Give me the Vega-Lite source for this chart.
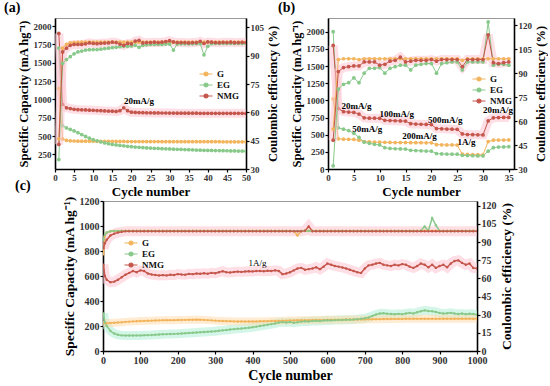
{
"$schema": "https://vega.github.io/schema/vega-lite/v6.json",
"padding": {"left": 3, "top": 0, "right": 0, "bottom": 0},
"config": {
  "font": "Liberation Serif",
  "view": {"stroke": "#999", "strokeWidth": 1},
  "axis": {"domainColor": "#000", "domainWidth": 1.6, "tickColor": "#000", "tickSize": 3, "tickWidth": 1.2, "labelFont": "Liberation Serif", "labelFontWeight": "bold", "labelFontSize": 9, "labelColor": "#333", "titleFont": "Liberation Serif", "titleFontWeight": "bold", "titleFontSize": 12.5, "titleColor": "#000", "grid": false, "labelPadding": 1, "titlePadding": 3, "labelFlush": false, "labelOverlap": false, "format": "d"},
  "legend": {"labelFont": "Liberation Serif", "labelFontWeight": "bold", "labelFontSize": 9, "labelColor": "#111", "padding": 0, "rowPadding": 0, "labelOffset": 5, "symbolSize": 100, "symbolStrokeWidth": 1.2, "symbolType": "M-1.3,0H1.3M-0.4,0A0.4,0.4,0,1,1,0.4,0A0.4,0.4,0,1,1,-0.4,0"},
  "title": {"font": "Liberation Serif", "fontWeight": "bold", "fontSize": 14, "color": "#000"}
},
"datasets": {
"a": [
{"s":"G","x":1,"cap":1150,"ce":46},{"s":"G","x":2,"cap":460,"ce":94},{"s":"G","x":3,"cap":440,"ce":96},{"s":"G","x":4,"cap":435,"ce":96.8},{"s":"G","x":5,"cap":432,"ce":97},{"s":"G","x":6,"cap":430,"ce":97.1},{"s":"G","x":7,"cap":430,"ce":97.2},{"s":"G","x":8,"cap":430,"ce":97.2},{"s":"G","x":9,"cap":429,"ce":97.2},{"s":"G","x":10,"cap":429,"ce":97.2},
{"s":"G","x":11,"cap":428,"ce":97.2},{"s":"G","x":12,"cap":428,"ce":97.2},{"s":"G","x":13,"cap":427,"ce":97.2},{"s":"G","x":14,"cap":427,"ce":97.2},{"s":"G","x":15,"cap":427,"ce":97.2},{"s":"G","x":16,"cap":426,"ce":97.2},{"s":"G","x":17,"cap":426,"ce":97.2},{"s":"G","x":18,"cap":426,"ce":97.2},{"s":"G","x":19,"cap":425,"ce":97.2},{"s":"G","x":20,"cap":425,"ce":97.2},
{"s":"G","x":21,"cap":425,"ce":97.2},{"s":"G","x":22,"cap":425,"ce":97.2},{"s":"G","x":23,"cap":424,"ce":97.2},{"s":"G","x":24,"cap":424,"ce":97.2},{"s":"G","x":25,"cap":424,"ce":97.2},{"s":"G","x":26,"cap":424,"ce":97.2},{"s":"G","x":27,"cap":424,"ce":97.2},{"s":"G","x":28,"cap":423,"ce":97.2},{"s":"G","x":29,"cap":423,"ce":97.2},{"s":"G","x":30,"cap":423,"ce":97.2},
{"s":"G","x":31,"cap":423,"ce":97.2},{"s":"G","x":32,"cap":423,"ce":97.2},{"s":"G","x":33,"cap":423,"ce":97.2},{"s":"G","x":34,"cap":423,"ce":97.2},{"s":"G","x":35,"cap":423,"ce":97.2},{"s":"G","x":36,"cap":422,"ce":97.2},{"s":"G","x":37,"cap":422,"ce":97.2},{"s":"G","x":38,"cap":422,"ce":97.2},{"s":"G","x":39,"cap":422,"ce":97.2},{"s":"G","x":40,"cap":422,"ce":97.2},
{"s":"G","x":41,"cap":422,"ce":97.2},{"s":"G","x":42,"cap":422,"ce":97.2},{"s":"G","x":43,"cap":422,"ce":97.2},{"s":"G","x":44,"cap":421,"ce":97.2},{"s":"G","x":45,"cap":421,"ce":97.2},{"s":"G","x":46,"cap":421,"ce":97.2},{"s":"G","x":47,"cap":421,"ce":97.2},{"s":"G","x":48,"cap":421,"ce":97.2},{"s":"G","x":49,"cap":421,"ce":97.2},{"s":"G","x":50,"cap":421,"ce":97.2},
{"s":"EG","x":1,"cap":1700,"ce":35},{"s":"EG","x":2,"cap":640,"ce":86},{"s":"EG","x":3,"cap":610,"ce":88},{"s":"EG","x":4,"cap":590,"ce":89.5},{"s":"EG","x":5,"cap":570,"ce":91},{"s":"EG","x":6,"cap":545,"ce":92},{"s":"EG","x":7,"cap":520,"ce":92.5},{"s":"EG","x":8,"cap":495,"ce":93},{"s":"EG","x":9,"cap":470,"ce":93.2},{"s":"EG","x":10,"cap":450,"ce":93.3},
{"s":"EG","x":11,"cap":435,"ce":93.3},{"s":"EG","x":12,"cap":420,"ce":93.5},{"s":"EG","x":13,"cap":405,"ce":93.8},{"s":"EG","x":14,"cap":395,"ce":94},{"s":"EG","x":15,"cap":385,"ce":94.3},{"s":"EG","x":16,"cap":378,"ce":94.5},{"s":"EG","x":17,"cap":372,"ce":94.8},{"s":"EG","x":18,"cap":366,"ce":95},{"s":"EG","x":19,"cap":360,"ce":95},{"s":"EG","x":20,"cap":355,"ce":95.2},
{"s":"EG","x":21,"cap":350,"ce":95.5},{"s":"EG","x":22,"cap":346,"ce":94.5},{"s":"EG","x":23,"cap":342,"ce":95.5},{"s":"EG","x":24,"cap":338,"ce":95.8},{"s":"EG","x":25,"cap":335,"ce":96},{"s":"EG","x":26,"cap":332,"ce":96},{"s":"EG","x":27,"cap":330,"ce":96},{"s":"EG","x":28,"cap":327,"ce":96},{"s":"EG","x":29,"cap":325,"ce":96.2},{"s":"EG","x":30,"cap":323,"ce":96.2},
{"s":"EG","x":31,"cap":321,"ce":93},{"s":"EG","x":32,"cap":319,"ce":96.2},{"s":"EG","x":33,"cap":317,"ce":96.3},{"s":"EG","x":34,"cap":315,"ce":96.3},{"s":"EG","x":35,"cap":313,"ce":96.3},{"s":"EG","x":36,"cap":311,"ce":96.3},{"s":"EG","x":37,"cap":309,"ce":96.4},{"s":"EG","x":38,"cap":307,"ce":96.4},{"s":"EG","x":39,"cap":305,"ce":90.5},{"s":"EG","x":40,"cap":304,"ce":95},
{"s":"EG","x":41,"cap":303,"ce":96.4},{"s":"EG","x":42,"cap":302,"ce":96.5},{"s":"EG","x":43,"cap":301,"ce":96.5},{"s":"EG","x":44,"cap":300,"ce":96.5},{"s":"EG","x":45,"cap":299,"ce":96.5},{"s":"EG","x":46,"cap":297,"ce":96.5},{"s":"EG","x":47,"cap":296,"ce":96.5},{"s":"EG","x":48,"cap":295,"ce":96.5},{"s":"EG","x":49,"cap":294,"ce":96.5},{"s":"EG","x":50,"cap":293,"ce":96.5},
{"s":"NMG","x":1,"cap":1900,"ce":43},{"s":"NMG","x":2,"cap":930,"ce":92},{"s":"NMG","x":3,"cap":885,"ce":94},{"s":"NMG","x":4,"cap":875,"ce":95.5},{"s":"NMG","x":5,"cap":865,"ce":96},{"s":"NMG","x":6,"cap":860,"ce":96},{"s":"NMG","x":7,"cap":858,"ce":96},{"s":"NMG","x":8,"cap":855,"ce":96.3},{"s":"NMG","x":9,"cap":852,"ce":96.8},{"s":"NMG","x":10,"cap":850,"ce":96.5},
{"s":"NMG","x":11,"cap":848,"ce":96.4},{"s":"NMG","x":12,"cap":845,"ce":96.6},{"s":"NMG","x":13,"cap":842,"ce":96.7},{"s":"NMG","x":14,"cap":840,"ce":96.8},{"s":"NMG","x":15,"cap":838,"ce":97.2},{"s":"NMG","x":16,"cap":835,"ce":97},{"s":"NMG","x":17,"cap":845,"ce":96.2},{"s":"NMG","x":18,"cap":885,"ce":95.5},{"s":"NMG","x":19,"cap":845,"ce":96.5},{"s":"NMG","x":20,"cap":825,"ce":96.3},
{"s":"NMG","x":21,"cap":822,"ce":97.8},{"s":"NMG","x":22,"cap":820,"ce":98.2},{"s":"NMG","x":23,"cap":818,"ce":96.8},{"s":"NMG","x":24,"cap":817,"ce":97},{"s":"NMG","x":25,"cap":816,"ce":97},{"s":"NMG","x":26,"cap":815,"ce":97.2},{"s":"NMG","x":27,"cap":815,"ce":97},{"s":"NMG","x":28,"cap":814,"ce":97.2},{"s":"NMG","x":29,"cap":814,"ce":97.5},{"s":"NMG","x":30,"cap":813,"ce":98},
{"s":"NMG","x":31,"cap":813,"ce":97.3},{"s":"NMG","x":32,"cap":812,"ce":97},{"s":"NMG","x":33,"cap":812,"ce":97},{"s":"NMG","x":34,"cap":812,"ce":97},{"s":"NMG","x":35,"cap":811,"ce":96.8},{"s":"NMG","x":36,"cap":811,"ce":97},{"s":"NMG","x":37,"cap":811,"ce":97},{"s":"NMG","x":38,"cap":810,"ce":97.6},{"s":"NMG","x":39,"cap":810,"ce":96.5},{"s":"NMG","x":40,"cap":810,"ce":97.3},
{"s":"NMG","x":41,"cap":810,"ce":97.2},{"s":"NMG","x":42,"cap":809,"ce":97},{"s":"NMG","x":43,"cap":809,"ce":96.9},{"s":"NMG","x":44,"cap":809,"ce":97.1},{"s":"NMG","x":45,"cap":809,"ce":97},{"s":"NMG","x":46,"cap":809,"ce":97.2},{"s":"NMG","x":47,"cap":809,"ce":96.9},{"s":"NMG","x":48,"cap":809,"ce":97},{"s":"NMG","x":49,"cap":809,"ce":97.1},{"s":"NMG","x":50,"cap":808,"ce":97}
],
"b": [
{"s":"G","x":1,"cap":1020,"ce":55},{"s":"G","x":2,"cap":440,"ce":98.5},{"s":"G","x":3,"cap":435,"ce":99},{"s":"G","x":4,"cap":432,"ce":99},{"s":"G","x":5,"cap":430,"ce":99},{"s":"G","x":6,"cap":420,"ce":98.5},{"s":"G","x":7,"cap":400,"ce":99},{"s":"G","x":8,"cap":395,"ce":99},{"s":"G","x":9,"cap":392,"ce":99},{"s":"G","x":10,"cap":390,"ce":99},
{"s":"G","x":11,"cap":388,"ce":99},{"s":"G","x":12,"cap":387,"ce":99},{"s":"G","x":13,"cap":386,"ce":99},{"s":"G","x":14,"cap":385,"ce":99},{"s":"G","x":15,"cap":385,"ce":99},{"s":"G","x":16,"cap":384,"ce":99},{"s":"G","x":17,"cap":383,"ce":99},{"s":"G","x":18,"cap":383,"ce":99},{"s":"G","x":19,"cap":382,"ce":99},{"s":"G","x":20,"cap":382,"ce":99},
{"s":"G","x":21,"cap":355,"ce":99},{"s":"G","x":22,"cap":352,"ce":99},{"s":"G","x":23,"cap":350,"ce":99},{"s":"G","x":24,"cap":350,"ce":99},{"s":"G","x":25,"cap":349,"ce":99},{"s":"G","x":26,"cap":215,"ce":98},{"s":"G","x":27,"cap":212,"ce":99},{"s":"G","x":28,"cap":210,"ce":99},{"s":"G","x":29,"cap":208,"ce":99},{"s":"G","x":30,"cap":207,"ce":99},
{"s":"G","x":31,"cap":400,"ce":99},{"s":"G","x":32,"cap":420,"ce":99},{"s":"G","x":33,"cap":422,"ce":99},{"s":"G","x":34,"cap":422,"ce":99},{"s":"G","x":35,"cap":423,"ce":99},
{"s":"EG","x":1,"cap":2000,"ce":32},{"s":"EG","x":2,"cap":600,"ce":80},{"s":"EG","x":3,"cap":580,"ce":83},{"s":"EG","x":4,"cap":560,"ce":84},{"s":"EG","x":5,"cap":520,"ce":87},{"s":"EG","x":6,"cap":460,"ce":84},{"s":"EG","x":7,"cap":390,"ce":90},{"s":"EG","x":8,"cap":375,"ce":93},{"s":"EG","x":9,"cap":360,"ce":93},{"s":"EG","x":10,"cap":350,"ce":93.5},
{"s":"EG","x":11,"cap":310,"ce":90},{"s":"EG","x":12,"cap":300,"ce":93},{"s":"EG","x":13,"cap":295,"ce":94},{"s":"EG","x":14,"cap":292,"ce":95},{"s":"EG","x":15,"cap":290,"ce":95},{"s":"EG","x":16,"cap":272,"ce":92},{"s":"EG","x":17,"cap":268,"ce":95},{"s":"EG","x":18,"cap":265,"ce":95.5},{"s":"EG","x":19,"cap":262,"ce":96},{"s":"EG","x":20,"cap":260,"ce":96},
{"s":"EG","x":21,"cap":225,"ce":90},{"s":"EG","x":22,"cap":220,"ce":96},{"s":"EG","x":23,"cap":218,"ce":96.5},{"s":"EG","x":24,"cap":216,"ce":97},{"s":"EG","x":25,"cap":215,"ce":97},{"s":"EG","x":26,"cap":200,"ce":92},{"s":"EG","x":27,"cap":195,"ce":97},{"s":"EG","x":28,"cap":193,"ce":97},{"s":"EG","x":29,"cap":191,"ce":97},{"s":"EG","x":30,"cap":190,"ce":97},
{"s":"EG","x":31,"cap":260,"ce":122},{"s":"EG","x":32,"cap":310,"ce":95},{"s":"EG","x":33,"cap":320,"ce":95.5},{"s":"EG","x":34,"cap":322,"ce":95.5},{"s":"EG","x":35,"cap":325,"ce":95},
{"s":"NMG","x":1,"cap":1800,"ce":48},{"s":"NMG","x":2,"cap":880,"ce":91},{"s":"NMG","x":3,"cap":835,"ce":93.5},{"s":"NMG","x":4,"cap":830,"ce":94},{"s":"NMG","x":5,"cap":825,"ce":94.5},{"s":"NMG","x":6,"cap":800,"ce":94.5},{"s":"NMG","x":7,"cap":745,"ce":97},{"s":"NMG","x":8,"cap":740,"ce":97},{"s":"NMG","x":9,"cap":740,"ce":97},{"s":"NMG","x":10,"cap":738,"ce":95},
{"s":"NMG","x":11,"cap":710,"ce":95.5},{"s":"NMG","x":12,"cap":705,"ce":97.5},{"s":"NMG","x":13,"cap":703,"ce":98},{"s":"NMG","x":14,"cap":700,"ce":100},{"s":"NMG","x":15,"cap":698,"ce":97},{"s":"NMG","x":16,"cap":660,"ce":97.5},{"s":"NMG","x":17,"cap":655,"ce":98},{"s":"NMG","x":18,"cap":652,"ce":98},{"s":"NMG","x":19,"cap":650,"ce":98},{"s":"NMG","x":20,"cap":648,"ce":98.5},
{"s":"NMG","x":21,"cap":590,"ce":97.5},{"s":"NMG","x":22,"cap":585,"ce":98.5},{"s":"NMG","x":23,"cap":582,"ce":98.5},{"s":"NMG","x":24,"cap":580,"ce":98.5},{"s":"NMG","x":25,"cap":578,"ce":98.5},{"s":"NMG","x":26,"cap":510,"ce":94},{"s":"NMG","x":27,"cap":502,"ce":98.5},{"s":"NMG","x":28,"cap":500,"ce":98.5},{"s":"NMG","x":29,"cap":498,"ce":98.5},{"s":"NMG","x":30,"cap":496,"ce":98.5},
{"s":"NMG","x":31,"cap":700,"ce":114},{"s":"NMG","x":32,"cap":745,"ce":96.5},{"s":"NMG","x":33,"cap":750,"ce":96},{"s":"NMG","x":34,"cap":752,"ce":96.5},{"s":"NMG","x":35,"cap":752,"ce":97}
],
"c": [
{"s":"G","x":1,"cap":230,"ce":80},{"s":"G","x":5,"cap":225,"ce":95},{"s":"G","x":10,"cap":222,"ce":98},{"s":"G","x":20,"cap":224,"ce":99},{"s":"G","x":30,"cap":226,"ce":99.3},{"s":"G","x":40,"cap":228,"ce":99.3},{"s":"G","x":50,"cap":230,"ce":99.4},{"s":"G","x":60,"cap":233,"ce":99.4},{"s":"G","x":70,"cap":235,"ce":99.4},{"s":"G","x":80,"cap":237,"ce":99.4},{"s":"G","x":90,"cap":238,"ce":99.4},{"s":"G","x":100,"cap":240,"ce":99.4},
{"s":"G","x":110,"cap":241,"ce":99.4},{"s":"G","x":120,"cap":242,"ce":99.4},{"s":"G","x":130,"cap":243,"ce":99.4},{"s":"G","x":140,"cap":244,"ce":99.4},{"s":"G","x":150,"cap":245,"ce":99.4},{"s":"G","x":160,"cap":246,"ce":99.4},{"s":"G","x":170,"cap":246,"ce":99.4},{"s":"G","x":180,"cap":247,"ce":99.4},{"s":"G","x":190,"cap":247,"ce":99.4},{"s":"G","x":200,"cap":248,"ce":99.4},
{"s":"G","x":210,"cap":248,"ce":99.4},{"s":"G","x":220,"cap":249,"ce":99.4},{"s":"G","x":230,"cap":250,"ce":99.4},{"s":"G","x":240,"cap":250,"ce":99.4},{"s":"G","x":250,"cap":251,"ce":99.4},{"s":"G","x":260,"cap":250,"ce":99.4},{"s":"G","x":270,"cap":249,"ce":99.4},{"s":"G","x":280,"cap":247,"ce":99.4},{"s":"G","x":290,"cap":245,"ce":99.4},{"s":"G","x":300,"cap":243,"ce":99.4},
{"s":"G","x":310,"cap":241,"ce":99.4},{"s":"G","x":320,"cap":240,"ce":99.4},{"s":"G","x":330,"cap":239,"ce":99.4},{"s":"G","x":340,"cap":238,"ce":99.4},{"s":"G","x":350,"cap":237,"ce":99.4},{"s":"G","x":360,"cap":236,"ce":99.4},{"s":"G","x":370,"cap":236,"ce":99.4},{"s":"G","x":380,"cap":236,"ce":99.4},{"s":"G","x":390,"cap":236,"ce":99.4},{"s":"G","x":400,"cap":237,"ce":99.4},
{"s":"G","x":410,"cap":237,"ce":99.4},{"s":"G","x":420,"cap":238,"ce":99.4},{"s":"G","x":430,"cap":238,"ce":99.4},{"s":"G","x":440,"cap":239,"ce":99.4},{"s":"G","x":450,"cap":240,"ce":99.4},{"s":"G","x":460,"cap":240,"ce":99.4},{"s":"G","x":470,"cap":241,"ce":99.4},{"s":"G","x":480,"cap":242,"ce":99.4},{"s":"G","x":490,"cap":243,"ce":99.4},{"s":"G","x":500,"cap":244,"ce":99.4},
{"s":"G","x":510,"cap":245,"ce":99.2},{"s":"G","x":520,"cap":246,"ce":95.5},{"s":"G","x":530,"cap":246,"ce":99.2},{"s":"G","x":540,"cap":247,"ce":99.4},{"s":"G","x":550,"cap":247,"ce":99.4},{"s":"G","x":560,"cap":248,"ce":99.4},{"s":"G","x":570,"cap":248,"ce":99.4},{"s":"G","x":580,"cap":249,"ce":99.4},{"s":"G","x":590,"cap":249,"ce":99.4},{"s":"G","x":600,"cap":250,"ce":99.4},
{"s":"G","x":610,"cap":250,"ce":99.4},{"s":"G","x":620,"cap":250,"ce":99.4},{"s":"G","x":630,"cap":251,"ce":99.4},{"s":"G","x":640,"cap":251,"ce":99.4},{"s":"G","x":650,"cap":252,"ce":99.4},{"s":"G","x":660,"cap":252,"ce":99.4},{"s":"G","x":670,"cap":252,"ce":99.4},{"s":"G","x":680,"cap":252,"ce":99.4},{"s":"G","x":690,"cap":253,"ce":99.4},{"s":"G","x":700,"cap":253,"ce":99.4},
{"s":"G","x":710,"cap":254,"ce":99.4},{"s":"G","x":720,"cap":254,"ce":99.4},{"s":"G","x":730,"cap":255,"ce":99.4},{"s":"G","x":740,"cap":255,"ce":99.4},{"s":"G","x":750,"cap":256,"ce":99.4},{"s":"G","x":760,"cap":256,"ce":99.4},{"s":"G","x":770,"cap":256,"ce":99.4},{"s":"G","x":780,"cap":257,"ce":99.4},{"s":"G","x":790,"cap":257,"ce":99.4},{"s":"G","x":800,"cap":257,"ce":99.4},
{"s":"G","x":810,"cap":258,"ce":99.4},{"s":"G","x":820,"cap":258,"ce":99.4},{"s":"G","x":830,"cap":258,"ce":99.4},{"s":"G","x":840,"cap":258,"ce":99.4},{"s":"G","x":850,"cap":258,"ce":99.4},{"s":"G","x":860,"cap":258,"ce":99.4},{"s":"G","x":870,"cap":258,"ce":99.4},{"s":"G","x":880,"cap":258,"ce":99.4},{"s":"G","x":890,"cap":258,"ce":99.4},{"s":"G","x":900,"cap":258,"ce":99.4},
{"s":"G","x":910,"cap":258,"ce":99.4},{"s":"G","x":920,"cap":258,"ce":99.4},{"s":"G","x":930,"cap":258,"ce":99.4},{"s":"G","x":940,"cap":258,"ce":99.4},{"s":"G","x":950,"cap":258,"ce":99.4},{"s":"G","x":960,"cap":258,"ce":99.4},{"s":"G","x":970,"cap":258,"ce":99.4},{"s":"G","x":980,"cap":258,"ce":99.4},{"s":"G","x":990,"cap":258,"ce":99.4},{"s":"G","x":1000,"cap":258,"ce":99.4},
{"s":"EG","x":1,"cap":300,"ce":92},{"s":"EG","x":5,"cap":230,"ce":96},{"s":"EG","x":10,"cap":200,"ce":98},{"s":"EG","x":20,"cap":160,"ce":99},{"s":"EG","x":30,"cap":140,"ce":99.2},{"s":"EG","x":40,"cap":130,"ce":99.2},{"s":"EG","x":50,"cap":125,"ce":99.2},{"s":"EG","x":60,"cap":124,"ce":99.2},{"s":"EG","x":70,"cap":124,"ce":99.2},{"s":"EG","x":80,"cap":124,"ce":99.2},{"s":"EG","x":90,"cap":125,"ce":99.2},{"s":"EG","x":100,"cap":125,"ce":99.2},
{"s":"EG","x":110,"cap":126,"ce":99.2},{"s":"EG","x":120,"cap":127,"ce":99.2},{"s":"EG","x":130,"cap":128,"ce":99.2},{"s":"EG","x":140,"cap":130,"ce":99.2},{"s":"EG","x":150,"cap":132,"ce":99.2},{"s":"EG","x":160,"cap":134,"ce":99.2},{"s":"EG","x":170,"cap":135,"ce":99.2},{"s":"EG","x":180,"cap":136,"ce":99.2},{"s":"EG","x":190,"cap":137,"ce":99.2},{"s":"EG","x":200,"cap":138,"ce":99.2},
{"s":"EG","x":210,"cap":140,"ce":99.2},{"s":"EG","x":220,"cap":142,"ce":99.2},{"s":"EG","x":230,"cap":144,"ce":99.2},{"s":"EG","x":240,"cap":146,"ce":99.2},{"s":"EG","x":250,"cap":148,"ce":99.2},{"s":"EG","x":260,"cap":150,"ce":99.2},{"s":"EG","x":270,"cap":152,"ce":99.2},{"s":"EG","x":280,"cap":154,"ce":99.2},{"s":"EG","x":290,"cap":156,"ce":99.2},{"s":"EG","x":300,"cap":158,"ce":99.2},
{"s":"EG","x":310,"cap":162,"ce":99.2},{"s":"EG","x":320,"cap":165,"ce":99.2},{"s":"EG","x":330,"cap":168,"ce":99.2},{"s":"EG","x":340,"cap":172,"ce":99.2},{"s":"EG","x":350,"cap":175,"ce":99.2},{"s":"EG","x":360,"cap":178,"ce":99.2},{"s":"EG","x":370,"cap":180,"ce":99.2},{"s":"EG","x":380,"cap":183,"ce":99.2},{"s":"EG","x":390,"cap":186,"ce":99.2},{"s":"EG","x":400,"cap":190,"ce":99.2},
{"s":"EG","x":410,"cap":195,"ce":99.2},{"s":"EG","x":420,"cap":200,"ce":99.2},{"s":"EG","x":430,"cap":205,"ce":99.2},{"s":"EG","x":440,"cap":210,"ce":99.2},{"s":"EG","x":450,"cap":215,"ce":99.2},{"s":"EG","x":460,"cap":220,"ce":99.2},{"s":"EG","x":470,"cap":228,"ce":99.2},{"s":"EG","x":480,"cap":232,"ce":99.2},{"s":"EG","x":490,"cap":228,"ce":99.2},{"s":"EG","x":500,"cap":232,"ce":99.2},
{"s":"EG","x":510,"cap":226,"ce":99.2},{"s":"EG","x":520,"cap":230,"ce":99.2},{"s":"EG","x":530,"cap":235,"ce":99.2},{"s":"EG","x":540,"cap":238,"ce":99.2},{"s":"EG","x":550,"cap":236,"ce":99.2},{"s":"EG","x":560,"cap":240,"ce":99.2},{"s":"EG","x":570,"cap":242,"ce":99.2},{"s":"EG","x":580,"cap":240,"ce":99.2},{"s":"EG","x":590,"cap":244,"ce":99.2},{"s":"EG","x":600,"cap":246,"ce":99.2},
{"s":"EG","x":610,"cap":245,"ce":99.2},{"s":"EG","x":620,"cap":247,"ce":99.2},{"s":"EG","x":630,"cap":248,"ce":99.2},{"s":"EG","x":640,"cap":248,"ce":99.2},{"s":"EG","x":650,"cap":250,"ce":99.2},{"s":"EG","x":660,"cap":250,"ce":99.2},{"s":"EG","x":670,"cap":252,"ce":99.2},{"s":"EG","x":680,"cap":255,"ce":99.2},{"s":"EG","x":690,"cap":258,"ce":99.2},{"s":"EG","x":700,"cap":262,"ce":99.2},
{"s":"EG","x":710,"cap":268,"ce":99.2},{"s":"EG","x":720,"cap":280,"ce":99.2},{"s":"EG","x":730,"cap":292,"ce":99.2},{"s":"EG","x":740,"cap":300,"ce":99.2},{"s":"EG","x":750,"cap":302,"ce":99.2},{"s":"EG","x":760,"cap":298,"ce":99.2},{"s":"EG","x":770,"cap":296,"ce":99.2},{"s":"EG","x":780,"cap":294,"ce":99.2},{"s":"EG","x":790,"cap":297,"ce":99.2},{"s":"EG","x":800,"cap":295,"ce":99.2},
{"s":"EG","x":810,"cap":300,"ce":99.2},{"s":"EG","x":820,"cap":305,"ce":99.2},{"s":"EG","x":830,"cap":300,"ce":99.2},{"s":"EG","x":840,"cap":310,"ce":99.2},{"s":"EG","x":850,"cap":318,"ce":99.5},{"s":"EG","x":860,"cap":325,"ce":103},{"s":"EG","x":870,"cap":320,"ce":99.5},{"s":"EG","x":880,"cap":318,"ce":110},{"s":"EG","x":890,"cap":312,"ce":104},{"s":"EG","x":900,"cap":305,"ce":99.2},
{"s":"EG","x":910,"cap":300,"ce":99.2},{"s":"EG","x":920,"cap":302,"ce":99.2},{"s":"EG","x":930,"cap":305,"ce":99.2},{"s":"EG","x":940,"cap":300,"ce":99.2},{"s":"EG","x":950,"cap":296,"ce":99.2},{"s":"EG","x":960,"cap":300,"ce":99.2},{"s":"EG","x":970,"cap":295,"ce":99.2},{"s":"EG","x":980,"cap":298,"ce":99.2},{"s":"EG","x":990,"cap":296,"ce":99.2},{"s":"EG","x":1000,"cap":290,"ce":99.2},
{"s":"NMG","x":1,"cap":690,"ce":85},{"s":"NMG","x":5,"cap":600,"ce":89},{"s":"NMG","x":10,"cap":570,"ce":92},{"s":"NMG","x":20,"cap":550,"ce":95.5},{"s":"NMG","x":30,"cap":555,"ce":97},{"s":"NMG","x":40,"cap":570,"ce":98},{"s":"NMG","x":50,"cap":590,"ce":98.5},{"s":"NMG","x":60,"cap":610,"ce":99},{"s":"NMG","x":70,"cap":625,"ce":99},{"s":"NMG","x":80,"cap":640,"ce":99},{"s":"NMG","x":90,"cap":630,"ce":99},{"s":"NMG","x":100,"cap":645,"ce":99},
{"s":"NMG","x":110,"cap":640,"ce":99},{"s":"NMG","x":120,"cap":620,"ce":99},{"s":"NMG","x":130,"cap":612,"ce":99},{"s":"NMG","x":140,"cap":608,"ce":99},{"s":"NMG","x":150,"cap":605,"ce":99},{"s":"NMG","x":160,"cap":607,"ce":99},{"s":"NMG","x":170,"cap":605,"ce":99},{"s":"NMG","x":180,"cap":610,"ce":99},{"s":"NMG","x":190,"cap":608,"ce":99},{"s":"NMG","x":200,"cap":615,"ce":99},
{"s":"NMG","x":210,"cap":612,"ce":99},{"s":"NMG","x":220,"cap":610,"ce":99},{"s":"NMG","x":230,"cap":617,"ce":99},{"s":"NMG","x":240,"cap":615,"ce":99},{"s":"NMG","x":250,"cap":620,"ce":99},{"s":"NMG","x":260,"cap":618,"ce":99},{"s":"NMG","x":270,"cap":622,"ce":99},{"s":"NMG","x":280,"cap":618,"ce":99},{"s":"NMG","x":290,"cap":625,"ce":99},{"s":"NMG","x":300,"cap":622,"ce":99},
{"s":"NMG","x":310,"cap":630,"ce":99},{"s":"NMG","x":320,"cap":638,"ce":99},{"s":"NMG","x":330,"cap":630,"ce":99},{"s":"NMG","x":340,"cap":628,"ce":99},{"s":"NMG","x":350,"cap":632,"ce":99},{"s":"NMG","x":360,"cap":635,"ce":99},{"s":"NMG","x":370,"cap":633,"ce":99},{"s":"NMG","x":380,"cap":636,"ce":99},{"s":"NMG","x":390,"cap":638,"ce":99},{"s":"NMG","x":400,"cap":637,"ce":99},
{"s":"NMG","x":410,"cap":640,"ce":99},{"s":"NMG","x":420,"cap":640,"ce":99},{"s":"NMG","x":430,"cap":638,"ce":99},{"s":"NMG","x":440,"cap":642,"ce":99},{"s":"NMG","x":450,"cap":640,"ce":99},{"s":"NMG","x":460,"cap":645,"ce":99},{"s":"NMG","x":470,"cap":640,"ce":99},{"s":"NMG","x":480,"cap":615,"ce":99},{"s":"NMG","x":490,"cap":620,"ce":99},{"s":"NMG","x":500,"cap":630,"ce":99},
{"s":"NMG","x":510,"cap":645,"ce":99},{"s":"NMG","x":520,"cap":660,"ce":99},{"s":"NMG","x":530,"cap":665,"ce":99},{"s":"NMG","x":540,"cap":650,"ce":99.5},{"s":"NMG","x":550,"cap":655,"ce":103},{"s":"NMG","x":560,"cap":660,"ce":99},{"s":"NMG","x":570,"cap":670,"ce":99},{"s":"NMG","x":580,"cap":655,"ce":99},{"s":"NMG","x":590,"cap":675,"ce":99},{"s":"NMG","x":600,"cap":700,"ce":99},
{"s":"NMG","x":610,"cap":690,"ce":99},{"s":"NMG","x":620,"cap":680,"ce":99},{"s":"NMG","x":630,"cap":675,"ce":99},{"s":"NMG","x":640,"cap":668,"ce":99},{"s":"NMG","x":650,"cap":660,"ce":99},{"s":"NMG","x":660,"cap":650,"ce":99},{"s":"NMG","x":670,"cap":640,"ce":99},{"s":"NMG","x":680,"cap":630,"ce":99},{"s":"NMG","x":690,"cap":625,"ce":99},{"s":"NMG","x":700,"cap":660,"ce":99},
{"s":"NMG","x":710,"cap":685,"ce":99},{"s":"NMG","x":720,"cap":690,"ce":99},{"s":"NMG","x":730,"cap":700,"ce":99},{"s":"NMG","x":740,"cap":705,"ce":99},{"s":"NMG","x":750,"cap":690,"ce":99},{"s":"NMG","x":760,"cap":685,"ce":99},{"s":"NMG","x":770,"cap":680,"ce":99},{"s":"NMG","x":780,"cap":690,"ce":99},{"s":"NMG","x":790,"cap":685,"ce":99},{"s":"NMG","x":800,"cap":695,"ce":99},
{"s":"NMG","x":810,"cap":690,"ce":99},{"s":"NMG","x":820,"cap":675,"ce":99},{"s":"NMG","x":830,"cap":665,"ce":99},{"s":"NMG","x":840,"cap":680,"ce":99},{"s":"NMG","x":850,"cap":700,"ce":99},{"s":"NMG","x":860,"cap":690,"ce":99},{"s":"NMG","x":870,"cap":670,"ce":99},{"s":"NMG","x":880,"cap":690,"ce":99},{"s":"NMG","x":890,"cap":665,"ce":99},{"s":"NMG","x":900,"cap":680,"ce":99},
{"s":"NMG","x":910,"cap":690,"ce":99},{"s":"NMG","x":920,"cap":670,"ce":99},{"s":"NMG","x":930,"cap":700,"ce":99},{"s":"NMG","x":940,"cap":720,"ce":99},{"s":"NMG","x":950,"cap":725,"ce":99},{"s":"NMG","x":960,"cap":705,"ce":99},{"s":"NMG","x":970,"cap":690,"ce":99},{"s":"NMG","x":980,"cap":700,"ce":99},{"s":"NMG","x":990,"cap":665,"ce":99},{"s":"NMG","x":1000,"cap":660,"ce":99}
]
},
"spacing": -21,
"resolve": {"scale": {"color": "independent"}, "legend": {"color": "independent"}},
"vconcat": [
{
"hconcat": [
{
"width": 191, "height": 151,
"title": {"text": "(a)", "anchor": "start", "frame": "group", "dx": -51, "offset": 3},
"data": {"name": "a"},
"encoding": {"x": {"field": "x", "type": "quantitative", "scale": {"domain": [0, 50], "nice": false}, "axis": {"title": "Cycle number", "values": [0,5,10,15,20,25,30,35,40,45,50], "titleFontSize": 13}}},
"layer": [
{
"encoding": {"y": {"field": "cap", "type": "quantitative", "scale": {"domain": [50, 2110], "nice": false, "zero": false}, "axis": {"title": "Specific Capacity (mA hg⁻¹)", "orient": "left", "values": [250,500,750,1000,1250,1500,1750,2000]}}},
"layer": [
{"transform": [{"filter": "datum.s === 'NMG'"}], "mark": {"type": "line", "color": "#FFC4D2", "strokeWidth": 9, "opacity": 0.55, "clip": true}},
{"mark": {"type": "line", "strokeWidth": 1, "clip": true}, "encoding": {"color": {"field": "s", "type": "nominal", "scale": {"domain": ["G","EG","NMG"], "range": ["#F2B45C","#88C98A","#C4564B"]}, "legend": {"title": null, "orient": "none", "legendX": 145, "legendY": 50}}}},
{"mark": {"type": "point", "filled": true, "size": 14, "opacity": 1, "clip": true}, "encoding": {"color": {"field": "s", "type": "nominal", "scale": {"domain": ["G","EG","NMG"], "range": ["#F2B45C","#88C98A","#C4564B"]}, "legend": {"title": null, "orient": "none", "legendX": 145, "legendY": 50}}}},
{"data": {"values": [{"x": 22, "cap": 975, "t": "20mA/g"}]}, "mark": {"type": "text", "fontWeight": "bold", "fontSize": 9, "font": "Liberation Serif"}, "encoding": {"text": {"field": "t"}}}
]
},
{
"encoding": {"y": {"field": "ce", "type": "quantitative", "scale": {"domain": [30, 110], "nice": false, "zero": false}, "axis": {"title": "Coulombic efficiency (%)", "orient": "right", "values": [30,45,60,75,90,105], "titleAngle": 270, "titleBaseline": "top"}}},
"layer": [
{"transform": [{"filter": "datum.s === 'NMG'"}], "mark": {"type": "line", "color": "#FFC4D2", "strokeWidth": 9, "opacity": 0.55, "clip": true}},
{"mark": {"type": "line", "strokeWidth": 1, "clip": true}, "encoding": {"color": {"field": "s", "type": "nominal"}}},
{"mark": {"type": "point", "filled": true, "size": 14, "opacity": 1, "clip": true}, "encoding": {"color": {"field": "s", "type": "nominal"}}}
]
}
],
"resolve": {"scale": {"y": "independent"}}
},
{
"width": 186, "height": 151,
"title": {"text": "(b)", "anchor": "start", "frame": "group", "dx": -50, "offset": 3},
"data": {"name": "b"},
"encoding": {"x": {"field": "x", "type": "quantitative", "scale": {"domain": [0, 36], "nice": false}, "axis": {"title": "Cycle number", "values": [0,5,10,15,20,25,30,35], "titleFontSize": 13}}},
"layer": [
{
"encoding": {"y": {"field": "cap", "type": "quantitative", "scale": {"domain": [0, 2200], "nice": false}, "axis": {"title": "Specific Capacity (mA hg⁻¹)", "orient": "left", "values": [0,250,500,750,1000,1250,1500,1750,2000]}}},
"layer": [
{"transform": [{"filter": "datum.s === 'NMG'"}], "mark": {"type": "line", "color": "#FFC4D2", "strokeWidth": 9, "opacity": 0.55, "clip": true}},
{"mark": {"type": "line", "strokeWidth": 1, "clip": true}, "encoding": {"color": {"field": "s", "type": "nominal", "scale": {"domain": ["G","EG","NMG"], "range": ["#F2B45C","#88C98A","#C4564B"]}, "legend": {"title": null, "orient": "none", "legendX": 145, "legendY": 55}}}},
{"mark": {"type": "point", "filled": true, "size": 14, "opacity": 1, "clip": true}, "encoding": {"color": {"field": "s", "type": "nominal", "scale": {"domain": ["G","EG","NMG"], "range": ["#F2B45C","#88C98A","#C4564B"]}, "legend": {"title": null, "orient": "none", "legendX": 145, "legendY": 55}}}},
{"data": {"values": [{"x": 5.5, "cap": 925, "t": "20mA/g"}, {"x": 7.6, "cap": 585, "t": "50mA/g"}, {"x": 13.3, "cap": 805, "t": "100mA/g"}, {"x": 17.7, "cap": 488, "t": "200mA/g"}, {"x": 22.7, "cap": 707, "t": "500mA/g"}, {"x": 26.8, "cap": 390, "t": "1A/g"}, {"x": 32.9, "cap": 854, "t": "20mA/g"}]}, "mark": {"type": "text", "fontWeight": "bold", "fontSize": 9, "font": "Liberation Serif"}, "encoding": {"text": {"field": "t"}}}
]
},
{
"encoding": {"y": {"field": "ce", "type": "quantitative", "scale": {"domain": [30, 124.5], "nice": false, "zero": false}, "axis": {"title": "Coulombic efficiency (%)", "orient": "right", "values": [30,45,60,75,90,105,120], "titleAngle": 270, "titleBaseline": "top"}}},
"layer": [
{"transform": [{"filter": "datum.s === 'NMG'"}], "mark": {"type": "line", "color": "#FFC4D2", "strokeWidth": 9, "opacity": 0.55, "clip": true}},
{"mark": {"type": "line", "strokeWidth": 1, "clip": true}, "encoding": {"color": {"field": "s", "type": "nominal"}}},
{"mark": {"type": "point", "filled": true, "size": 14, "opacity": 1, "clip": true}, "encoding": {"color": {"field": "s", "type": "nominal"}}}
]
}
],
"resolve": {"scale": {"y": "independent"}}
}
],
"spacing": 82,
"bounds": "flush",
"resolve": {"scale": {"color": "independent"}, "legend": {"color": "independent"}}
},
{
"hconcat": [
{"width": 48, "height": 150, "view": {"stroke": null}, "data": {"values": []}, "mark": "point"},
{
"width": 374, "height": 150,
"title": {"text": "(c)", "anchor": "start", "frame": "group", "dx": -88, "offset": 3},
"data": {"name": "c"},
"encoding": {"x": {"field": "x", "type": "quantitative", "scale": {"domain": [0, 1000], "nice": false}, "axis": {"title": "Cycle number", "values": [0,100,200,300,400,500,600,700,800,900,1000], "titleFontSize": 14, "labelFontSize": 10}}},
"layer": [
{
"encoding": {"y": {"field": "cap", "type": "quantitative", "scale": {"domain": [0, 1200], "nice": false}, "axis": {"title": "Specific Capacity (mA hg⁻¹)", "orient": "left", "values": [0,200,400,600,800,1000,1200], "titleFontSize": 13.5, "labelFontSize": 10}}},
"layer": [
{"transform": [{"filter": "datum.s === 'NMG'"}], "mark": {"type": "line", "color": "#FFC4D2", "strokeWidth": 10, "opacity": 0.55, "clip": true}},
{"transform": [{"filter": "datum.s === 'EG'"}], "mark": {"type": "line", "color": "#B8F0D8", "strokeWidth": 9, "opacity": 0.6, "clip": true}},
{"transform": [{"filter": "datum.s === 'G'"}], "mark": {"type": "line", "color": "#FFD9A8", "strokeWidth": 8, "opacity": 0.5, "clip": true}},
{"mark": {"type": "line", "strokeWidth": 1.5, "clip": true}, "encoding": {"color": {"field": "s", "type": "nominal", "scale": {"domain": ["G","EG","NMG"], "range": ["#F2B45C","#88C98A","#C4564B"]}, "legend": {"title": null, "orient": "none", "legendX": 22, "legendY": 36}}}},
{"mark": {"type": "point", "filled": true, "size": 6, "opacity": 1, "clip": true}, "encoding": {"color": {"field": "s", "type": "nominal", "scale": {"domain": ["G","EG","NMG"], "range": ["#F2B45C","#88C98A","#C4564B"]}, "legend": {"title": null, "orient": "none", "legendX": 22, "legendY": 36}}}},
{"data": {"values": [{"x": 413, "cap": 704, "t": "1A/g"}]}, "mark": {"type": "text", "fontSize": 9, "font": "Liberation Serif"}, "encoding": {"text": {"field": "t"}}}
]
},
{
"encoding": {"y": {"field": "ce", "type": "quantitative", "scale": {"domain": [0, 124], "nice": false}, "axis": {"title": "Coulombic efficiency (%)", "orient": "right", "values": [0,15,30,45,60,75,90,105,120], "titleAngle": 270, "titleBaseline": "top", "titleFontSize": 13.5, "labelFontSize": 10}}},
"layer": [
{"transform": [{"filter": "datum.s === 'NMG'"}], "mark": {"type": "line", "color": "#FFC4D2", "strokeWidth": 10, "opacity": 0.55, "clip": true}},
{"mark": {"type": "line", "strokeWidth": 1.5, "clip": true}, "encoding": {"color": {"field": "s", "type": "nominal"}}},
{"mark": {"type": "point", "filled": true, "size": 6, "opacity": 1, "clip": true}, "encoding": {"color": {"field": "s", "type": "nominal"}}}
]
}
],
"resolve": {"scale": {"y": "independent"}}
}
],
"spacing": 0,
"bounds": "flush",
"resolve": {"scale": {"color": "independent"}, "legend": {"color": "independent"}}
}
]
}
